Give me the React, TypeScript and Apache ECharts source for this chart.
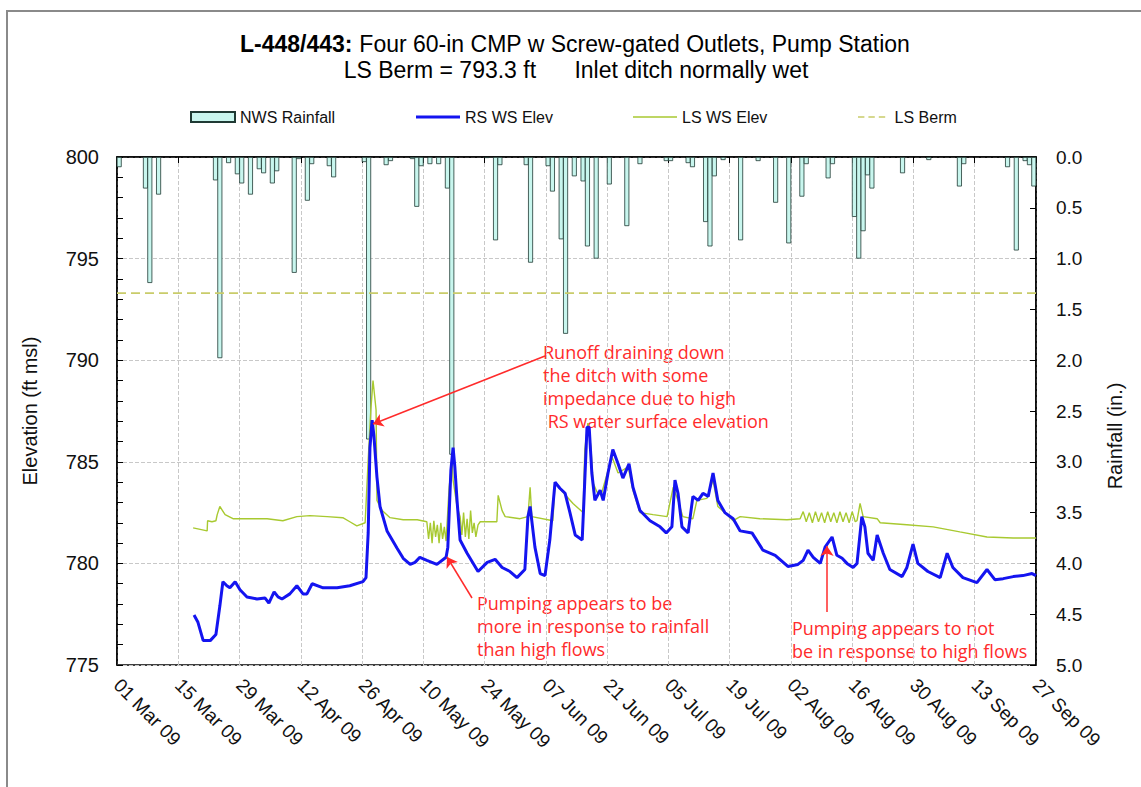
import React, { useEffect, useRef } from 'react';
import * as echarts from 'echarts';

// x values are days since 01 Mar 2009
const TICK_LABELS = ['01 Mar 09', '15 Mar 09', '29 Mar 09', '12 Apr 09', '26 Apr 09', '10 May 09', '24 May 09', '07 Jun 09', '21 Jun 09', '05 Jul 09', '19 Jul 09', '02 Aug 09', '16 Aug 09', '30 Aug 09', '13 Sep 09', '27 Sep 09'];

// NWS Rainfall (in.) — [day, inches]
const RAINFALL: [number, number][] = [
  [0, 0.1], [6, 0.31], [7, 1.24], [9, 0.37], [22, 0.23], [23, 1.98], [25, 0.06], [27, 0.17], [28, 0.26], [30, 0.37],
  [32, 0.12], [33, 0.16], [35, 0.26], [36, 0.14], [40, 1.14], [41, 0.02], [43, 0.43], [44, 0.07], [48, 0.09], [49, 0.2],
  [56, 0.05], [57, 2.78], [61, 0.08], [62, 0.04], [67, 0.02], [68, 0.49], [69, 0.09], [71, 0.07], [73, 0.07], [75, 0.31],
  [76, 2.93], [84, 0.01], [86, 0.82], [87, 0.08], [93, 0.08], [94, 1.04], [98, 0.09], [99, 0.34], [101, 0.81], [102, 1.74],
  [104, 0.19], [106, 0.24], [107, 0.88], [109, 1.0], [112, 0.27], [116, 0.68], [119, 0.07], [125, 0.04], [126, 0.04], [130, 0.06],
  [131, 0.1], [134, 0.64], [135, 0.88], [136, 0.19], [138, 0.03], [142, 0.82], [146, 0.04], [150, 0.45], [153, 0.85], [156, 0.39],
  [157, 0.07], [162, 0.21], [163, 0.07], [168, 0.59], [169, 1.0], [170, 0.73], [171, 0.18], [172, 0.31], [179, 0.16], [185, 0.03],
  [192, 0.29], [193, 0.07], [203, 0.1], [205, 0.92], [207, 0.04], [208, 0.08], [209, 0.29],
];

// RS WS Elev (ft msl) — [day, elev]
const RS_WS_ELEV: [number, number][] = [
  [17.6, 777.46], [18.5, 777.1], [19.7, 776.2], [21.3, 776.2], [22.6, 776.5], [23.5, 777.9], [24.2, 779.1], [25.1, 778.9],
  [25.8, 778.8], [27.0, 779.1], [28.1, 778.7], [29.7, 778.35], [32.0, 778.25], [33.8, 778.3], [34.7, 778.05], [35.9, 778.6],
  [36.8, 778.35], [37.7, 778.25], [39.5, 778.5], [41.1, 778.9], [42.5, 778.5], [43.4, 778.5], [44.6, 779.0], [47.1, 778.8],
  [50.3, 778.8], [53.2, 778.9], [56.2, 779.1], [56.9, 779.3], [57.4, 781.5], [57.8, 785.7], [58.3, 787.05], [58.7, 786.3],
  [59.4, 784.25], [60.1, 782.8], [61.7, 781.6], [64.0, 780.75], [65.4, 780.25], [67.0, 779.95], [68.1, 780.05], [69.2, 780.3],
  [70.8, 780.15], [73.1, 779.95], [75.2, 780.3], [75.6, 780.8], [76.3, 784.6], [76.8, 785.7], [77.2, 784.75], [77.7, 783.1],
  [78.4, 781.15], [80.0, 780.5], [82.5, 779.6], [84.6, 780.05], [86.4, 780.2], [88.0, 779.8], [89.8, 779.6], [91.4, 779.3],
  [93.2, 779.7], [93.9, 782.3], [94.4, 782.8], [95.5, 780.8], [96.7, 779.5], [97.8, 779.4], [98.9, 781.15], [100.1, 784.0],
  [101.2, 783.7], [102.4, 783.45], [103.5, 782.5], [104.7, 781.4], [106.3, 781.15], [106.7, 783.1], [107.4, 786.7], [107.9, 786.7],
  [108.5, 784.45], [109.2, 783.1], [110.4, 783.6], [111.1, 783.1], [112.2, 784.45], [113.3, 785.6], [114.5, 784.9], [115.6, 784.2],
  [117.0, 784.9], [117.9, 783.75], [119.5, 782.6], [121.8, 782.1], [124.1, 781.8], [125.5, 781.5], [126.8, 781.8], [127.5, 784.1],
  [128.2, 783.45], [129.1, 781.8], [130.5, 781.5], [131.6, 783.3], [132.8, 783.1], [133.9, 783.45], [135.1, 783.3], [136.2, 784.45],
  [137.3, 783.1], [138.9, 782.5], [140.8, 782.2], [142.4, 781.6], [145.1, 781.5], [147.6, 780.65], [150.4, 780.4], [153.3, 779.85],
  [155.6, 779.95], [156.8, 780.15], [157.9, 780.65], [159.1, 780.3], [160.7, 780.0], [161.8, 780.8], [163.4, 781.3], [164.5, 780.4],
  [165.7, 780.25], [166.8, 780.0], [168.2, 779.8], [169.1, 780.0], [170.2, 782.3], [170.9, 781.8], [171.6, 780.5], [172.8, 780.15],
  [173.7, 781.4], [175.1, 780.5], [176.6, 779.7], [179.4, 779.35], [180.5, 779.8], [181.9, 780.95], [183.0, 780.0], [185.3, 779.6],
  [188.1, 779.3], [189.7, 780.5], [191.0, 779.8], [193.3, 779.3], [196.5, 779.05], [198.8, 779.7], [200.6, 779.2], [202.5, 779.25],
  [204.8, 779.35], [207.0, 779.4], [209.1, 779.5], [210, 779.4],
];

// LS WS Elev (ft msl) — [day, elev]
const LS_WS_ELEV: [number, number][] = [
  [17.4, 781.75], [20.6, 781.6], [20.7, 782.1], [21.7, 782.05], [22.6, 782.1], [22.9, 782.4], [23.5, 782.8], [24.7, 782.4],
  [26.5, 782.2], [30.4, 782.2], [34.3, 782.2], [37.9, 782.1], [41.1, 782.3], [44.1, 782.35], [48.0, 782.3], [51.6, 782.25],
  [53.2, 782.05], [54.8, 781.85], [56.7, 782.0], [57.4, 785.1], [58.0, 787.55], [58.5, 789.0], [59.2, 787.55], [59.4, 783.1],
  [60.6, 782.6], [62.4, 782.25], [65.4, 782.15], [68.6, 782.15], [70.8, 782.05],
  [71.2, 781.2], [71.6, 782.0], [72.0, 781.0], [72.4, 782.1], [72.8, 781.3], [73.2, 781.9], [73.6, 781.0], [74.0, 782.0],
  [74.4, 781.2], [74.8, 781.8], [75.2, 781.1],
  [75.9, 783.75], [76.6, 785.1], [76.8, 784.1], [77.7, 782.8], [78.4, 782.3],
  [78.8, 781.4], [79.2, 782.5], [79.6, 781.3], [80.0, 782.2], [80.4, 781.2], [80.8, 782.6], [81.2, 781.5], [81.6, 782.0],
  [82.0, 781.3], [82.5, 781.9],
  [83.0, 782.05], [86.8, 782.05], [87.1, 783.35], [88.0, 782.6], [88.7, 782.3], [92.1, 782.2], [93.9, 782.3], [94.4, 783.75],
  [94.8, 782.3], [99.6, 782.1], [100.1, 783.95], [101.9, 783.5], [104.2, 782.95], [106.5, 782.5], [106.9, 785.6], [107.6, 786.9],
  [108.3, 785.7], [108.8, 783.95], [109.7, 783.5], [110.8, 783.5], [113.1, 785.25], [114.5, 784.45], [116.8, 784.75], [117.9, 783.6],
  [119.5, 782.5], [122.5, 782.4], [125.7, 782.3], [127.1, 783.75], [128.2, 783.1], [129.3, 782.3], [131.6, 782.2], [132.5, 783.1],
  [134.8, 783.2], [136.2, 784.1], [137.3, 782.8], [139.4, 782.4], [140.8, 782.1], [142.4, 782.3], [146.9, 782.2], [153.1, 782.15],
  [156.1, 782.2],
  [156.8, 782.55], [157.5, 782.05], [158.2, 782.5], [158.9, 782.0], [159.6, 782.55], [160.3, 782.05], [161.0, 782.5], [161.7, 782.0],
  [162.4, 782.55], [163.1, 782.05], [163.8, 782.5], [164.5, 782.0], [165.2, 782.55], [165.9, 782.05], [166.6, 782.5], [167.3, 782.0],
  [168.0, 782.55], [168.7, 782.05], [169.1, 782.1],
  [169.8, 782.95], [170.5, 782.3], [173.7, 782.2], [174.4, 782.0], [180.5, 781.9], [186.5, 781.8], [192.6, 781.55], [198.8, 781.3],
  [204.8, 781.25], [210, 781.25],
];

const LS_BERM = 793.3;
const X_MIN = 0;
const X_MAX = 210;
const X_STEP = 14;

const FONT = "'Liberation Sans', Arial, sans-serif";
const NOTE_FONT = "'Open Sans', 'Noto Sans', sans-serif";
const RED = '#ff2b2b';
const BLUE = '#1414f0';
const GREEN = '#a8c930';
const BERM_COLOR = '#c9cc6a';

export default function App() {
  const ref = useRef<HTMLDivElement>(null);

  useEffect(() => {
    if (!ref.current) return;
    const chart = echarts.init(ref.current, undefined, { renderer: 'svg' });

    const legendBase = {
      top: 104,
      itemWidth: 44,
      itemGap: 4,
      selectedMode: false,
      textStyle: { fontFamily: FONT, fontSize: 16, color: '#111' },
    };

    const option: any = {
      animation: false,
      backgroundColor: '#ffffff',
      grid: {
        left: 117, top: 157, width: 919, height: 508,
        show: true, borderColor: '#000', borderWidth: 1.5, backgroundColor: 'transparent',
      },
      legend: [
        { ...legendBase, left: 185, itemHeight: 10, data: [{ name: 'NWS Rainfall', icon: 'rect' }] },
        {
          ...legendBase, left: 411, itemHeight: 3,
          data: [{ name: 'RS WS Elev', icon: 'rect', itemStyle: { color: BLUE } }],
        },
        {
          ...legendBase, left: 628, itemHeight: 1.6,
          data: [{ name: 'LS WS Elev', icon: 'rect', itemStyle: { color: GREEN } }],
        },
        {
          ...legendBase, left: 853, itemWidth: 36, itemHeight: 1.6,
          data: [{
            name: 'LS Berm',
            icon: 'path://M0,0h8v2h-8z M13,0h8v2h-8z M26,0h8v2h-8z',
            itemStyle: { color: BERM_COLOR },
          }],
        },
      ],
      xAxis: {
        type: 'value',
        min: X_MIN,
        max: X_MAX,
        interval: X_STEP,
        axisLine: { show: true, lineStyle: { color: '#000', width: 1.5 } },
        axisTick: { show: true, length: 6, lineStyle: { color: '#000' } },
        splitLine: { show: true, lineStyle: { color: '#c8c8c8', type: [4, 2] } },
        axisLabel: {
          rotate: -45,
          margin: 17,
          fontFamily: FONT,
          fontSize: 19,
          color: '#111',
          formatter: (v: number) => TICK_LABELS[Math.round((v - X_MIN) / X_STEP)] ?? '',
        },
      },
      yAxis: [
        {
          type: 'value',
          min: 775,
          max: 800,
          interval: 5,
          name: 'Elevation (ft msl)',
          nameLocation: 'middle',
          nameRotate: 90,
          nameGap: 77,
          nameTextStyle: { fontFamily: FONT, fontSize: 20, color: '#111' },
          axisLine: { show: true, lineStyle: { color: '#000', width: 1.5 } },
          axisTick: { show: true, inside: true, length: 6, lineStyle: { color: '#000' } },
          minorTick: { show: true, splitNumber: 5, length: 6, lineStyle: { color: '#000' } },
          splitLine: { show: true, lineStyle: { color: '#c8c8c8', type: [4, 2] } },
          axisLabel: { margin: 18, fontFamily: FONT, fontSize: 20, color: '#111' },
        },
        {
          type: 'value',
          min: 0,
          max: 5,
          interval: 0.5,
          inverse: true,
          position: 'right',
          axisLine: { show: true, lineStyle: { color: '#000', width: 1.5 } },
          axisTick: { show: true, inside: true, length: 6, lineStyle: { color: '#000' } },
          splitLine: { show: false },
          axisLabel: {
            margin: 20, fontFamily: FONT, fontSize: 19, color: '#111',
            formatter: (v: number) => v.toFixed(1),
          },
        },
      ],
      series: [
        {
          name: 'NWS Rainfall',
          type: 'bar',
          yAxisIndex: 1,
          barWidth: 5,
          data: RAINFALL.map(([d, r]) => [d + 0.5, r]),
          itemStyle: { color: '#c8f6ee', borderColor: '#1f3a34', borderWidth: 0.8 },
          z: 1,
        },
        {
          name: 'LS Berm',
          type: 'line',
          symbol: 'none',
          data: [[X_MIN, LS_BERM], [X_MAX, LS_BERM]],
          lineStyle: { color: BERM_COLOR, width: 1.6, type: [9, 5] },
          itemStyle: { color: BERM_COLOR },
          z: 2,
          markLine: {
            silent: true,
            symbol: ['none', 'arrow'],
            symbolSize: 10,
            label: { show: false },
            lineStyle: { color: RED, width: 1.5, type: 'solid' },
            data: [
              [{ x: 545, y: 356 }, { x: 373, y: 424 }],
              [{ x: 472, y: 598 }, { x: 447, y: 557 }],
              [{ x: 827, y: 612 }, { x: 827, y: 546 }],
            ],
          },
        },
        {
          name: 'LS WS Elev',
          type: 'line',
          symbol: 'none',
          data: LS_WS_ELEV,
          lineStyle: { color: GREEN, width: 1.4 },
          itemStyle: { color: GREEN },
          z: 3,
        },
        {
          name: 'RS WS Elev',
          type: 'line',
          symbol: 'none',
          data: RS_WS_ELEV,
          lineStyle: { color: BLUE, width: 3 },
          itemStyle: { color: BLUE },
          z: 4,
        },
      ],
      graphic: [
        {
          type: 'rect',
          silent: true,
          shape: { x: 7, y: 11, width: 1160, height: 820 },
          style: { fill: 'none', stroke: '#8a8a8a', lineWidth: 2 },
        },
        {
          type: 'text',
          x: 575, y: 44,
          style: {
            text: '{b|L-448/443:}  {n|Four 60-in CMP w Screw-gated Outlets, Pump Station}',
            align: 'center', verticalAlign: 'middle',
            rich: {
              b: { fontFamily: FONT, fontSize: 23, fontWeight: 'bold', fill: '#000' },
              n: { fontFamily: FONT, fontSize: 23, fill: '#000' },
            },
          },
        },
        {
          type: 'text',
          x: 576, y: 70,
          style: {
            text: 'LS Berm = 793.3 ft      Inlet ditch normally wet',
            align: 'center', verticalAlign: 'middle',
            fontFamily: FONT, fontSize: 23, fill: '#000',
          },
        },
        {
          type: 'text',
          x: 1115, y: 436,
          rotation: Math.PI / 2,
          style: {
            text: 'Rainfall (in.)',
            align: 'center', verticalAlign: 'middle',
            fontFamily: FONT, fontSize: 20, fill: '#111',
          },
        },
        {
          type: 'text',
          x: 543, y: 340,
          style: {
            text: 'Runoff draining down\nthe ditch with some\nimpedance due to high\n RS water surface elevation',
            fontFamily: NOTE_FONT, fontSize: 18, lineHeight: 23, fill: RED,
          },
        },
        {
          type: 'text',
          x: 477, y: 591,
          style: {
            text: 'Pumping appears to be\nmore in response to rainfall\nthan high flows',
            fontFamily: NOTE_FONT, fontSize: 18, lineHeight: 23, fill: RED,
          },
        },
        {
          type: 'text',
          x: 792, y: 616,
          style: {
            text: 'Pumping appears to not\nbe in response to high flows',
            fontFamily: NOTE_FONT, fontSize: 18, lineHeight: 23, fill: RED,
          },
        },
      ],
    };

    chart.setOption(option);
    return () => chart.dispose();
  }, []);

  return (
    <div
      ref={ref}
      style={{ position: 'fixed', left: 0, top: 0, width: 1141, height: 787, background: '#fff' }}
    />
  );
}
